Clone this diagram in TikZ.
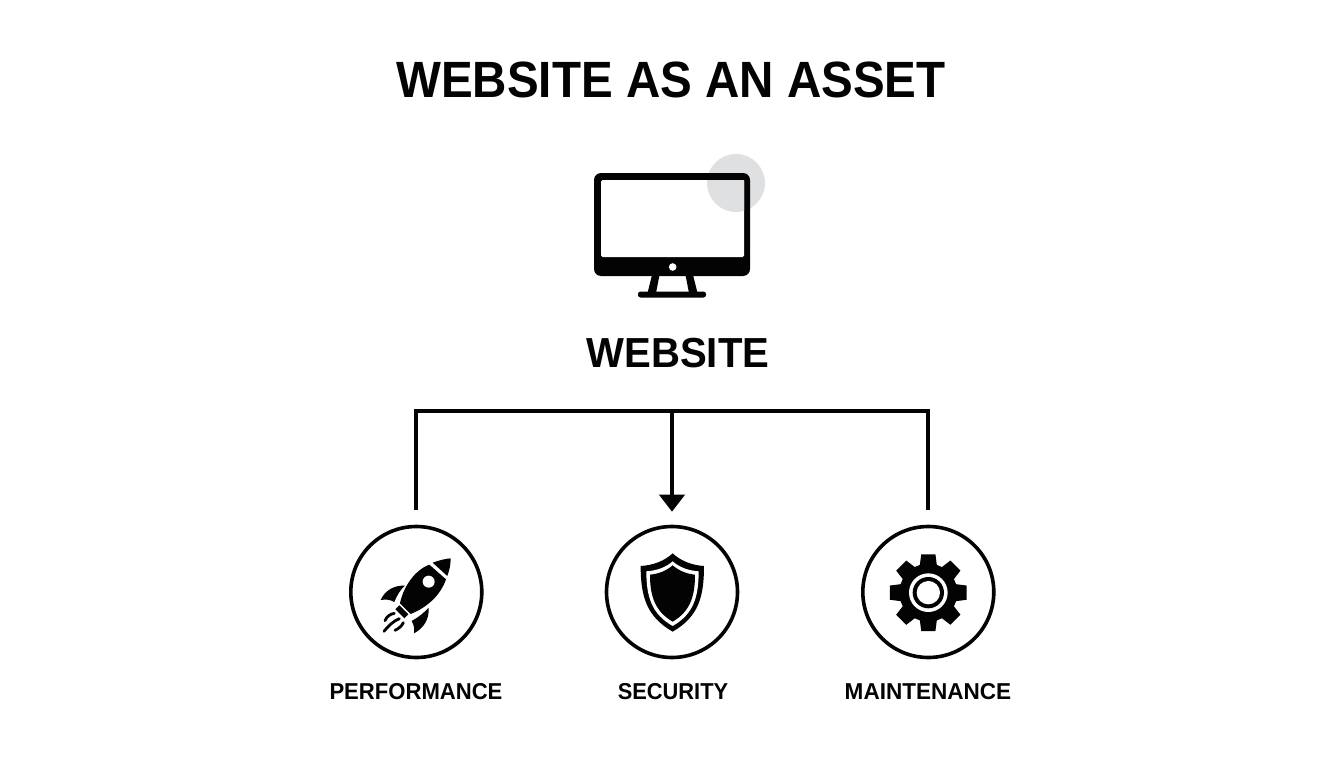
\documentclass[tikz,border=0pt]{standalone}
\usepackage{fontspec}
\setmainfont{Liberation Sans}
\usetikzlibrary{arrows.meta}
\definecolor{ink}{HTML}{030303}
\definecolor{halo}{HTML}{DFE0E1}
\tikzset{
  lbl/.style={inner sep=0pt,anchor=base,text=ink,font=\bfseries\fontsize{#1}{#1}\selectfont},
  ring/.style={circle,draw=ink,line width=3.6pt,minimum size=131pt,inner sep=0pt,fill=white},
  conn/.style={draw=ink,line width=4pt},
  zoomed/.style={shift={#1},x=0.3333pt,y=-0.3333pt}
}
\begin{document}
\begin{tikzpicture}[x=1pt,y=-1pt]
\useasboundingbox[fill=white] (0,0) rectangle (1344,768);
% title and monitor
\node[lbl=51] (title) at (671,97) {\scalebox{.932}[1]{WEBSITE AS AN ASSET}};
\fill[halo] (736,183) circle (29);
\fill[ink,rounded corners=7pt] (672,173) -- (750,173) -- (750,276) -- (594,276) -- (594,173) -- cycle;
\fill[white,rounded corners=1.5pt] (672,180) -- (744,180) -- (744,257) -- (601,257) -- (601,180) -- cycle;
\begin{scope}
  \clip (601,180) rectangle (744,257);
  \fill[halo] (736,183) circle (29);
\end{scope}
\fill[white] (672.7,267) circle (3.8);
\fill[ink,even odd rule] (652,275) -- (693,275) -- (697.5,293) -- (647.5,293) -- cycle
  (659.5,275) -- (685.5,275) -- (689,293) -- (656,293) -- cycle;
\fill[ink,rounded corners=2.5pt] (638,291.5) rectangle (706,297.5);
\node[lbl=42] (website) at (678,367) {\scalebox{.955}[1]{WEBSITE}};
% category nodes
\node[ring] (perf) at (416.3,592) {};
\node[ring] (sec) at (672,592) {};
\node[ring] (maint) at (928.3,592) {};
\node[lbl=23] (perflabel) at (416,699) {\scalebox{.96}[1]{PERFORMANCE}};
\node[lbl=23] (seclabel) at (673,699) {\scalebox{.95}[1]{SECURITY}};
\node[lbl=23] (maintlabel) at (928,699) {\scalebox{.98}[1]{MAINTENANCE}};
% connectors
\coordinate (hub) at (672,411);
\draw[conn,shorten >=15pt] (hub) -| (perf.north);
\draw[conn,shorten >=15pt] (hub) -| (maint.north);
\draw[conn,shorten >=13pt,-{Triangle[length=17pt,width=25pt]}] (hub) -- (sec.north);
% rocket
\begin{scope}[zoomed={(340,520)}]
  \fill[ink] (278,128) .. controls (300,120) and (318,116) .. (332,115) .. controls (332,135) and (328,152) .. (322,168) -- cycle;
  \fill[ink] (268,134) .. controls (225,150) and (190,200) .. (180,250) -- (212,282) .. controls (262,262) and (302,225) .. (318,178) -- cycle;
  \fill[white] (266,185) circle (18);
  \fill[ink] (122,240) .. controls (135,210) and (165,195) .. (195,197) .. controls (180,210) and (170,228) .. (163,246) .. controls (150,238) and (135,238) .. (122,240) -- cycle;
  \fill[ink] (222,340) .. controls (250,325) and (268,300) .. (266,263) .. controls (250,280) and (235,292) .. (215,303) .. controls (222,315) and (224,328) .. (222,340) -- cycle;
  \fill[ink] (166,268) -- (178,256) -- (205,283) -- (193,295) -- cycle;
  \draw[ink,line width=2.8pt,line cap=round] (163,280) .. controls (150,282) and (140,290) .. (135,302);
  \draw[ink,line width=2.8pt,line cap=round] (178,296) .. controls (160,303) and (145,318) .. (132,334);
  \draw[ink,line width=2.8pt,line cap=round] (190,308) .. controls (186,317) and (178,325) .. (165,331);
\end{scope}
% shield
\begin{scope}[zoomed={(600,490)}]
  \fill[ink] (218,190) .. controls (195,212) and (160,226) .. (122,228) .. controls (122,320) and (140,380) .. (218,425) .. controls (296,380) and (312,320) .. (312,228) .. controls (276,226) and (241,212) .. (218,190) -- cycle;
  \fill[white] (218,214) .. controls (198,232) and (170,242) .. (139,244) .. controls (139,320) and (155,372) .. (218,408) .. controls (281,372) and (296,320) .. (296,244) .. controls (266,242) and (238,232) .. (218,214) -- cycle;
  \fill[ink] (218,226) .. controls (200,242) and (175,252) .. (150,254) .. controls (150,318) and (165,364) .. (218,395) .. controls (271,364) and (285,318) .. (285,254) .. controls (261,252) and (236,242) .. (218,226) -- cycle;
\end{scope}
% gear
\begin{scope}[zoomed={(855,520)}]
  \begin{scope}[shift={(220,218)}]
    \fill[ink] (-17:87) \foreach \a in {0,45,...,315} { -- (\a-17:87) -- (\a-10.5:117) -- (\a+10.5:117) -- (\a+17:87) } -- cycle;
    \fill[white] (0,0) circle (58);
    \fill[ink] (0,0) circle (47);
    \fill[white] (0,0) circle (35);
  \end{scope}
\end{scope}
\end{tikzpicture}
\end{document}
